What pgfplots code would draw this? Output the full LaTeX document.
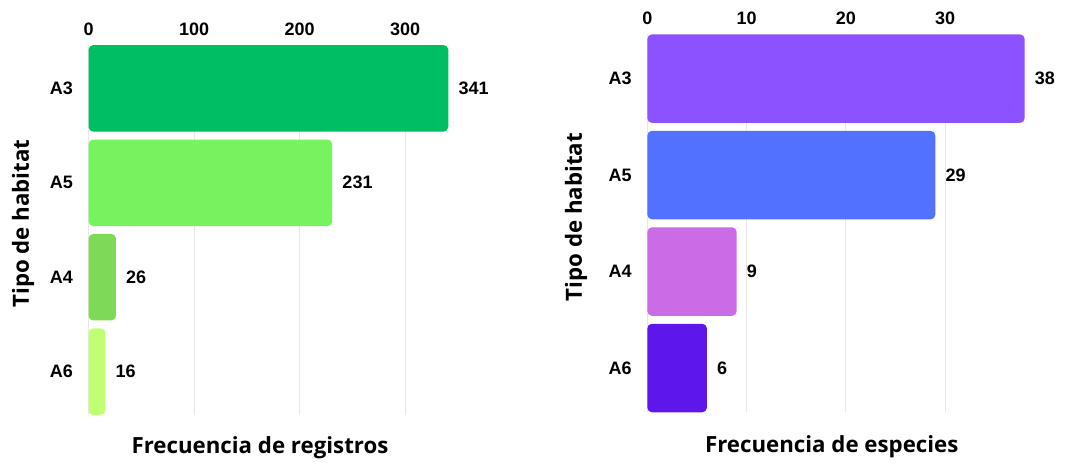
\documentclass[border=0pt]{standalone}
\usepackage{fontspec}
\setmainfont{Liberation Sans}
\newfontfamily\titlefont{Open Sans}
\usepackage{pgfplots}
\pgfplotsset{compat=1.18}

\definecolor{gA3}{HTML}{00BF63}
\definecolor{gA5}{HTML}{76F35E}
\definecolor{gA4}{HTML}{7ED957}
\definecolor{gA6}{HTML}{C1FF72}
\definecolor{pA3}{HTML}{8C52FF}
\definecolor{pA5}{HTML}{5271FF}
\definecolor{pA4}{HTML}{CB6CE6}
\definecolor{pA6}{HTML}{5E17EB}
\definecolor{gridgray}{HTML}{E8E8E8}

\newcommand{\lblfont}{\fontsize{13.5}{15}\selectfont\bfseries}
\newcommand{\ttlfont}{\titlefont\fontsize{16.7}{19}\selectfont\bfseries}

\pgfplotsset{
  hbar/.style={
    xbar, bar shift=0pt, scale only axis,
    axis x line*=top, axis y line*=left, axis line style={draw=none},
    xticklabel pos=upper,
    xmin=0, ymin=-0.459, ymax=3.459, y dir=reverse,
    ytick={0,1,2,3}, yticklabels={A3,A5,A4,A6},
    major tick length=0pt,
    xmajorgrids, grid style={color=gridgray, line width=0.75pt},
    tick label style={font=\lblfont},
    yticklabel style={inner sep=0pt, xshift=-11.6pt},
    xticklabel style={inner sep=0pt, yshift=7pt},
    /pgf/number format/assume math mode=true,
    point meta=x,
    nodes near coords,
    every node near coord/.append style={anchor=west, inner sep=0pt,
      xshift=7.5pt, font=\lblfont, black},
    clip=false,
    every axis plot/.append style={draw=none, rounded corners=3.5pt},
  }
}

\begin{document}
\begin{tikzpicture}
\path (0,0) rectangle (798.75pt,347.25pt);

% Registros por tipo de habitat
\begin{axis}[hbar, at={(66.4pt,36pt)}, anchor=south west,
  width=269.8pt, height=277.5pt, xmax=341, bar width=64.9pt,
  xtick={0,100,200,300}]
  \addplot[fill=gA3] coordinates {(341,0)};
  \addplot[fill=gA5] coordinates {(231,1)};
  \addplot[fill=gA4] coordinates {(26,2)};
  \addplot[fill=gA6] coordinates {(16,3)};
\end{axis}

% Especies por tipo de habitat
\begin{axis}[hbar, at={(485.5pt,38pt)}, anchor=south west,
  width=283pt, height=283.5pt, xmax=38, bar width=66.4pt,
  xtick={0,10,20,30}]
  \addplot[fill=pA3] coordinates {(38,0)};
  \addplot[fill=pA5] coordinates {(29,1)};
  \addplot[fill=pA4] coordinates {(9,2)};
  \addplot[fill=pA6] coordinates {(6,3)};
\end{axis}

\node[font=\ttlfont] at (195pt,11.25pt) {Frecuencia de registros};
\node[font=\ttlfont] at (623.8pt,12pt) {Frecuencia de especies};
\node[font=\ttlfont, rotate=90] at (17.25pt,179.6pt) {Tipo de habitat};
\node[font=\ttlfont, rotate=90] at (432pt,184.5pt) {Tipo de habitat};
\end{tikzpicture}
\end{document}
